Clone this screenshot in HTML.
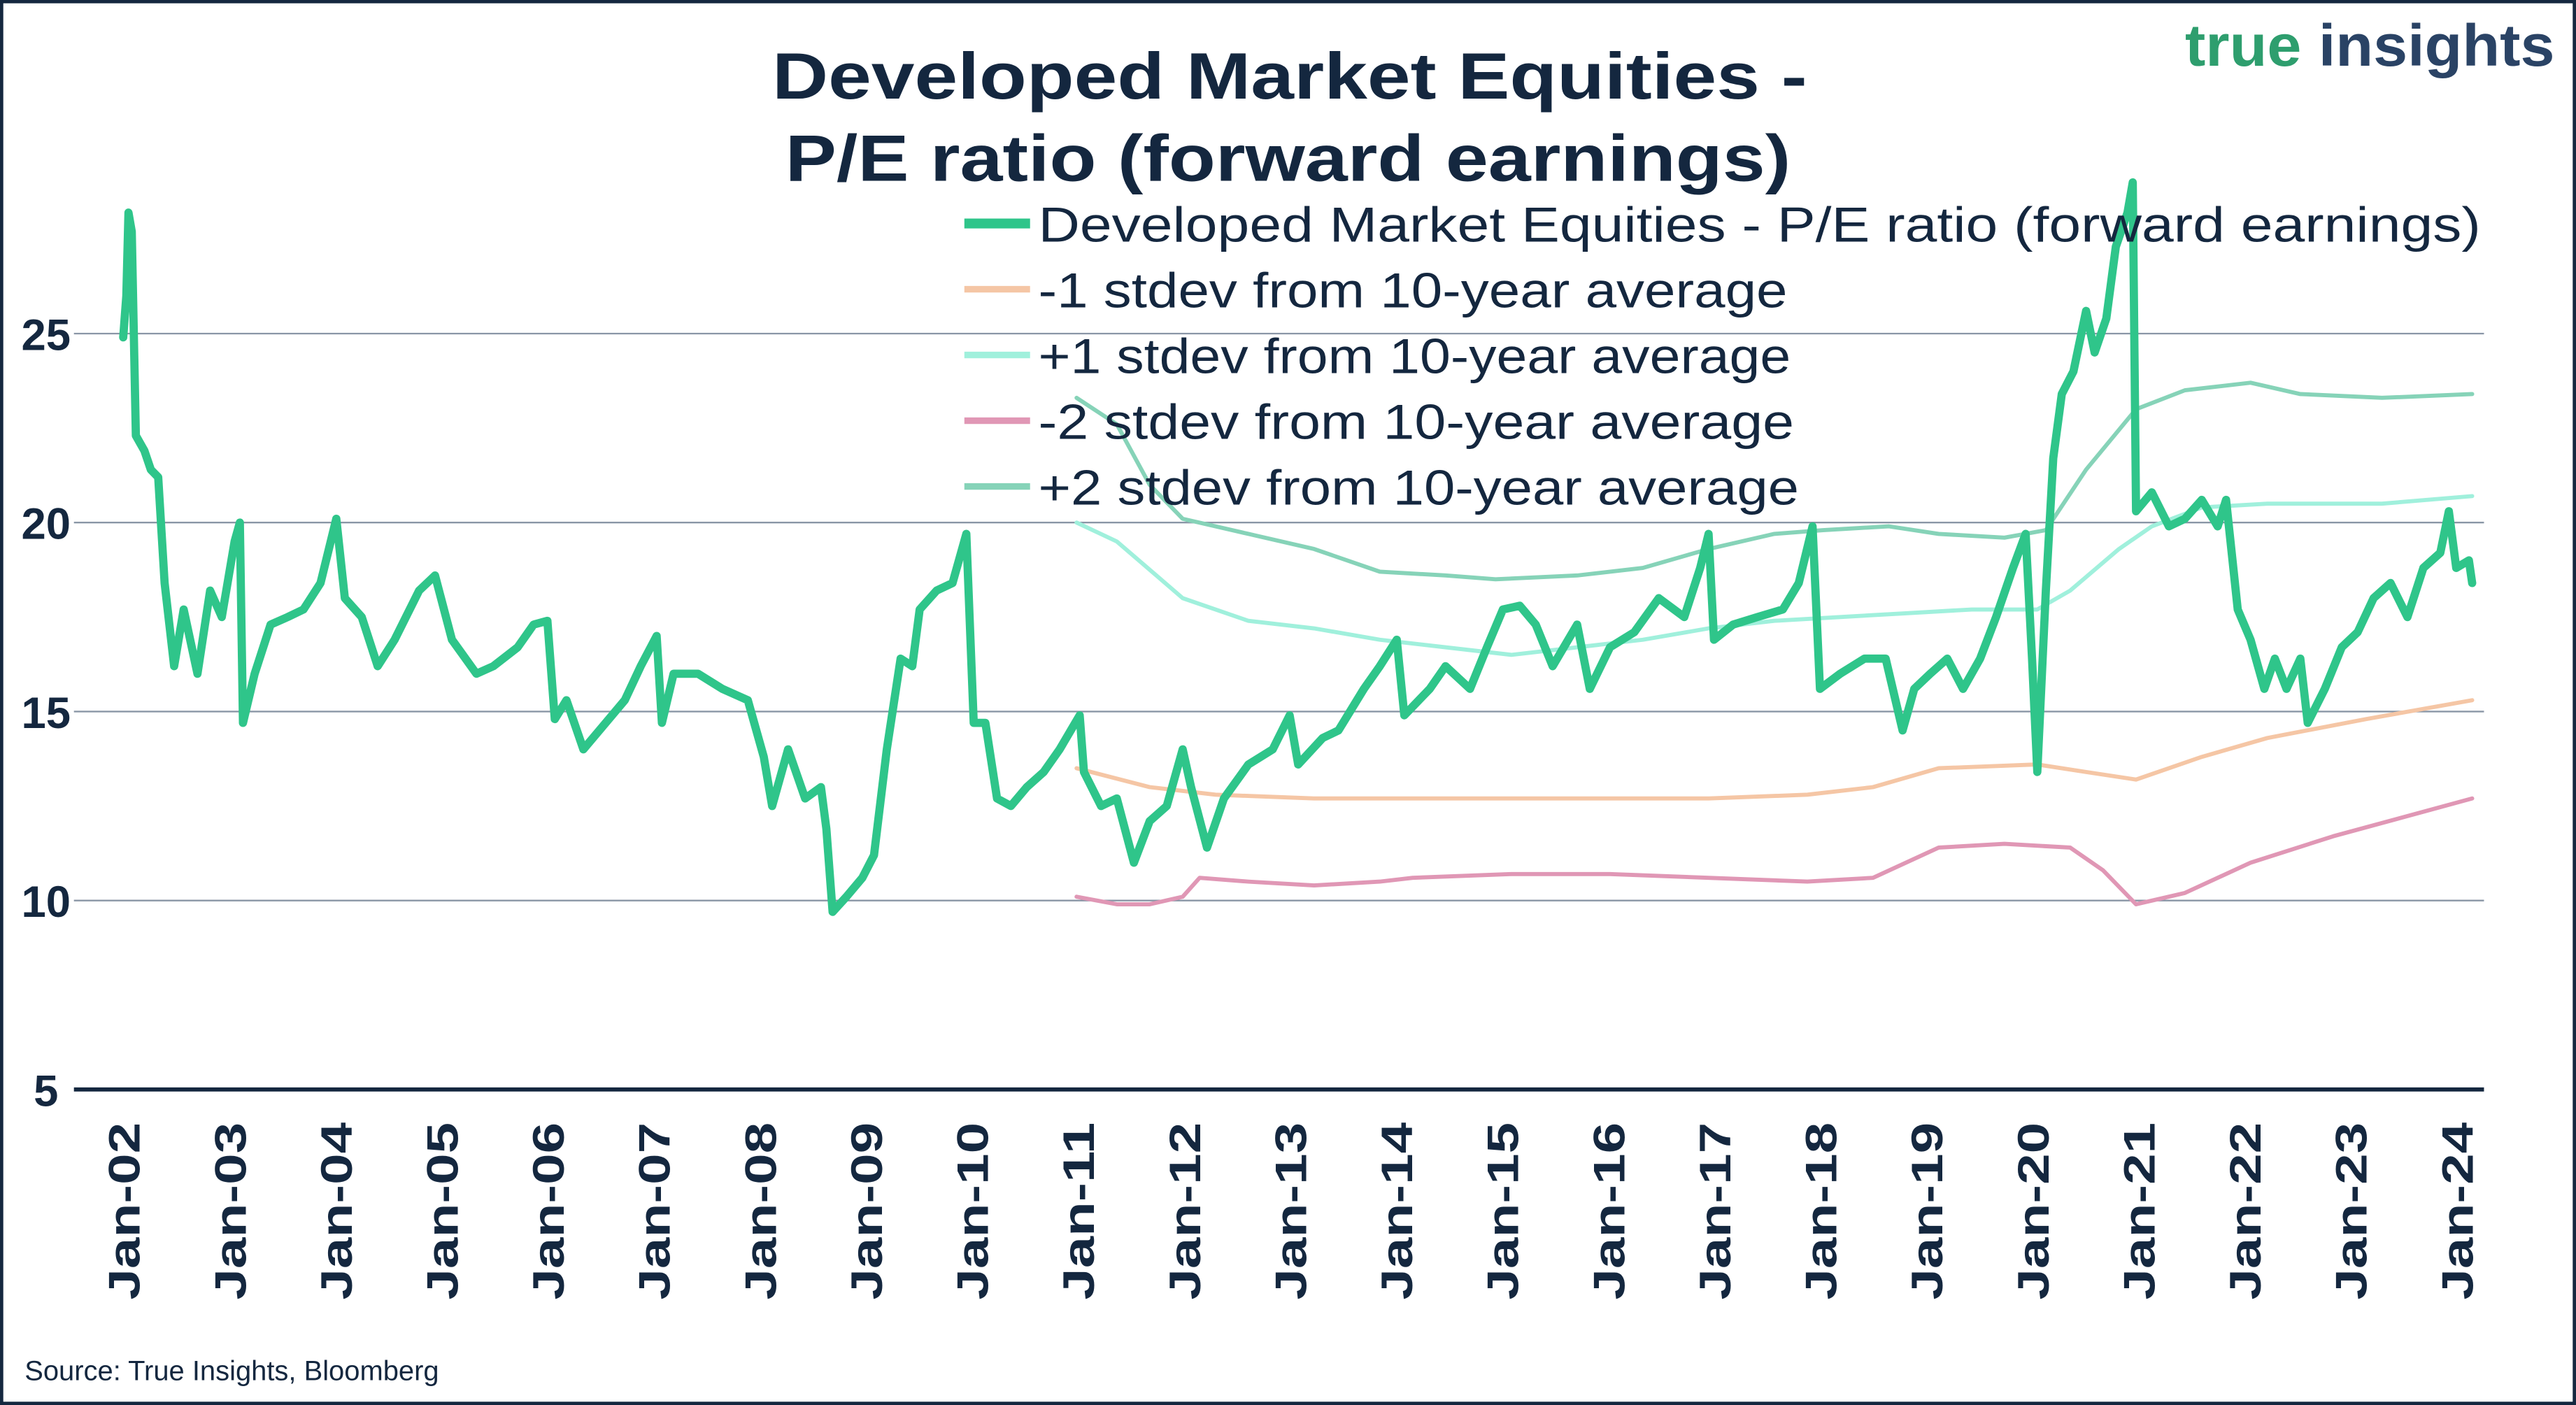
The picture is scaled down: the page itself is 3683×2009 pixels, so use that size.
<!DOCTYPE html>
<html><head><meta charset="utf-8"><style>
html,body{margin:0;padding:0;background:#fff;}
svg{display:block;font-family:"Liberation Sans",sans-serif;}
</style></head><body>
<svg id="chart" width="3683" height="2009" viewBox="0 0 1568 855" preserveAspectRatio="none" xmlns="http://www.w3.org/2000/svg">
<rect x="1" y="1" width="1566" height="853" fill="#fff" stroke="#14273f" stroke-width="2"/>
<text x="470" y="60" textLength="630" lengthAdjust="spacingAndGlyphs" font-size="40" font-weight="bold" fill="#14273f">Developed Market Equities -</text>
<text x="478" y="110" textLength="612" lengthAdjust="spacingAndGlyphs" font-size="40" font-weight="bold" fill="#14273f">P/E ratio (forward earnings)</text>
<text x="1330" y="40" textLength="225" lengthAdjust="spacingAndGlyphs" font-size="36" font-weight="bold"><tspan fill="#2e9e6e">true </tspan><tspan fill="#2a4365">insights</tspan></text>
<g id="grid"></g>
<g id="ylabels"></g>
<g id="xlabels"></g>
<g id="series"></g>
<g id="legend"></g>
<text x="15" y="840" font-size="17" fill="#14273f">Source: True Insights, Bloomberg</text>
</svg>
<script>
const yTicks = [5, 10, 15, 20, 25];
const xTickLabels = ["Jan-02","Jan-03","Jan-04","Jan-05","Jan-06","Jan-07","Jan-08","Jan-09","Jan-10","Jan-11","Jan-12","Jan-13","Jan-14","Jan-15","Jan-16","Jan-17","Jan-18","Jan-19","Jan-20","Jan-21","Jan-22","Jan-23","Jan-24"];
const xTickYears = [2002,2003,2004,2005,2006,2007,2008,2009,2010,2011,2012,2013,2014,2015,2016,2017,2018,2019,2020,2021,2022,2023,2024];
const peDates = [2002.0,2002.03,2002.05,2002.08,2002.12,2002.2,2002.26,2002.33,2002.39,2002.48,2002.57,2002.7,2002.82,2002.93,2003.05,2003.1,2003.13,2003.24,2003.39,2003.55,2003.7,2003.86,2004.01,2004.09,2004.25,2004.4,2004.56,2004.79,2004.94,2005.1,2005.33,2005.49,2005.72,2005.87,2006.0,2006.07,2006.18,2006.34,2006.49,2006.73,2006.88,2007.03,2007.08,2007.19,2007.42,2007.65,2007.89,2008.04,2008.12,2008.27,2008.43,2008.58,2008.63,2008.69,2008.82,2008.97,2009.08,2009.2,2009.33,2009.44,2009.51,2009.67,2009.82,2009.95,2010.02,2010.13,2010.24,2010.37,2010.52,2010.68,2010.83,2011.02,2011.06,2011.22,2011.37,2011.53,2011.68,2011.84,2011.99,2012.07,2012.22,2012.38,2012.61,2012.84,2013.0,2013.08,2013.31,2013.46,2013.7,2013.85,2014.01,2014.08,2014.32,2014.47,2014.7,2014.86,2015.01,2015.17,2015.32,2015.48,2015.71,2015.83,2016.02,2016.25,2016.48,2016.72,2016.87,2016.95,2017.0,2017.18,2017.41,2017.65,2017.8,2017.93,2018.0,2018.19,2018.42,2018.62,2018.78,2018.89,2019.04,2019.2,2019.35,2019.51,2019.66,2019.82,2019.94,2020.0,2020.05,2020.13,2020.2,2020.28,2020.39,2020.51,2020.59,2020.7,2020.79,2020.9,2020.95,2020.98,2021.13,2021.29,2021.44,2021.6,2021.75,2021.83,2021.94,2022.06,2022.19,2022.29,2022.4,2022.53,2022.6,2022.76,2022.92,2023.07,2023.22,2023.38,2023.54,2023.69,2023.85,2023.93,2024.0,2024.12,2024.15];
const peValues = [24.9,26,28.2,27.7,22.3,21.9,21.4,21.2,18.4,16.2,17.7,16,18.2,17.5,19.5,20,14.7,16,17.3,17.5,17.7,18.4,20.1,18,17.5,16.2,16.9,18.2,18.6,16.9,16,16.2,16.7,17.3,17.4,14.8,15.3,14,14.5,15.3,16.2,17,14.7,16,16,15.6,15.3,13.8,12.5,14,12.7,13,11.9,9.7,10.1,10.6,11.2,14,16.4,16.2,17.7,18.2,18.4,19.7,14.7,14.7,12.7,12.5,13,13.4,14,14.9,13.4,12.5,12.7,11,12.1,12.5,14,13,11.4,12.7,13.6,14,14.9,13.6,14.3,14.5,15.6,16.2,16.9,14.9,15.6,16.2,15.6,16.7,17.7,17.8,17.3,16.2,17.3,15.6,16.7,17.1,18,17.5,18.8,19.7,16.9,17.3,17.5,17.7,18.4,19.9,15.6,16,16.4,16.4,14.5,15.6,16,16.4,15.6,16.4,17.5,18.8,19.7,16.4,13.4,18.2,21.7,23.4,24,25.6,24.5,25.4,27.3,28.2,29,20.3,20.8,19.9,20.1,20.6,19.9,20.6,17.7,16.9,15.6,16.4,15.6,16.4,14.7,15.6,16.7,17.1,18,18.4,17.5,18.8,19.2,20.3,18.8,19,18.4];
const plus2Dates = [2010.99,2011.37,2011.68,2011.99,2012.61,2013.23,2013.85,2014.47,2014.94,2015.71,2016.33,2016.95,2017.57,2018.03,2018.65,2019.12,2019.74,2020.13,2020.51,2020.98,2021.44,2022.06,2022.53,2023.3,2024.15];
const plus2Values = [23.3,22.6,21,20.1,19.7,19.3,18.7,18.6,18.5,18.6,18.8,19.3,19.7,19.8,19.9,19.7,19.6,19.8,21.4,23,23.5,23.7,23.4,23.3,23.4];
const plus1Dates = [2010.99,2011.37,2011.99,2012.61,2013.23,2013.85,2014.47,2015.09,2015.71,2016.33,2016.95,2017.57,2018.19,2018.81,2019.43,2020.05,2020.36,2020.82,2021.13,2021.6,2022.22,2023.3,2024.15];
const plus1Values = [20,19.5,18,17.4,17.2,16.9,16.7,16.5,16.7,16.9,17.2,17.4,17.5,17.6,17.7,17.7,18.2,19.3,19.9,20.4,20.5,20.5,20.7];
const minus1Dates = [2010.99,2011.68,2012.3,2013.23,2014.47,2015.71,2016.95,2017.88,2018.5,2019.12,2020.05,2020.51,2020.98,2021.6,2022.22,2023.15,2024.15];
const minus1Values = [13.5,13,12.8,12.7,12.7,12.7,12.7,12.8,13,13.5,13.6,13.4,13.2,13.8,14.3,14.8,15.3];
const minus2Dates = [2010.99,2011.37,2011.68,2011.99,2012.15,2012.61,2013.23,2013.85,2014.16,2015.09,2016.02,2016.95,2017.88,2018.5,2019.12,2019.74,2020.36,2020.67,2020.98,2021.44,2022.06,2022.84,2024.15];
const minus2Values = [10.1,9.9,9.9,10.1,10.6,10.5,10.4,10.5,10.6,10.7,10.7,10.6,10.5,10.6,11.4,11.5,11.4,10.8,9.9,10.2,11,11.7,12.7];
const legendLabels = ["Developed Market  Equities - P/E ratio (forward earnings)","-1 stdev from 10-year average","+1 stdev from 10-year average","-2 stdev from 10-year average","+2 stdev from 10-year average"];
const legendWidths = [878, 456, 458, 460, 463];

const NS = "http://www.w3.org/2000/svg";
function X(yr){ return 75 + (yr - 2002) * 64.55; }
function Y(v){ return 663 - (v - 5) * 23; }
function mk(tag, attrs, parent){ const e = document.createElementNS(NS, tag); for (const k in attrs) e.setAttribute(k, attrs[k]); parent.appendChild(e); return e; }

const grid = document.getElementById('grid');
const yl = document.getElementById('ylabels');
yTicks.forEach(v => {
  const ln = mk('line', {x1:45, x2:1512, y1:Y(v), y2:Y(v), stroke: v===5 ? '#14273f' : '#8a96a6', 'stroke-width': v===5 ? 2.5 : 1}, grid);
  
  
  const t = mk('text', {x:28, y:Y(v)+10, 'text-anchor':'middle', 'font-size':27, 'font-weight':'bold', fill:'#14273f'}, yl);
  t.textContent = v;
  
  
});
const xl = document.getElementById('xlabels');
xTickLabels.forEach((lab, i) => {
  const x = X(xTickYears[i]);
  const t = mk('text', {x:0, y:0, 'text-anchor':'end', 'font-size':27, 'font-weight':'bold', fill:'#14273f', textLength:108, lengthAdjust:'spacingAndGlyphs', transform:`translate(${x+10},683) rotate(-90)`}, xl);
  t.textContent = lab;
  
  
});

const series = document.getElementById('series');
function line(dates, vals, color, w, name){
  const d = dates.map((yr, i) => (i ? 'L' : 'M') + X(yr).toFixed(1) + ',' + Y(vals[i]).toFixed(1)).join(' ');
  const p = mk('path', {d, fill:'none', stroke:color, 'stroke-width':w, 'stroke-linejoin':'round', 'stroke-linecap':'round'}, series);
  
  
}
line(minus1Dates, minus1Values, '#f5c6a5', 2.5, 'minus-1-stdev-line');
line(plus1Dates, plus1Values, '#a0f0dc', 2.5, 'plus-1-stdev-line');
line(minus2Dates, minus2Values, '#e097b5', 2.5, 'minus-2-stdev-line');
line(plus2Dates, plus2Values, '#86d3b8', 2.5, 'plus-2-stdev-line');
line(peDates, peValues, '#2fc58a', 5, 'pe-ratio-line');

const lg = document.getElementById('legend');
const lcolors = ['#2fc58a','#f5c6a5','#a0f0dc','#e097b5','#86d3b8'];
legendLabels.forEach((lab, i) => {
  const cy = 136 + i * 40;
  const s = mk('line', {x1:587, x2:627, y1:cy, y2:cy, stroke:lcolors[i], 'stroke-width': i===0 ? 6 : 4}, lg);
  
  
  const t = mk('text', {x:632, y:cy+11, 'font-size':30, fill:'#14273f', textLength:legendWidths[i], lengthAdjust:'spacingAndGlyphs'}, lg);
  t.textContent = lab;
  
  
});
</script>
</body></html>
